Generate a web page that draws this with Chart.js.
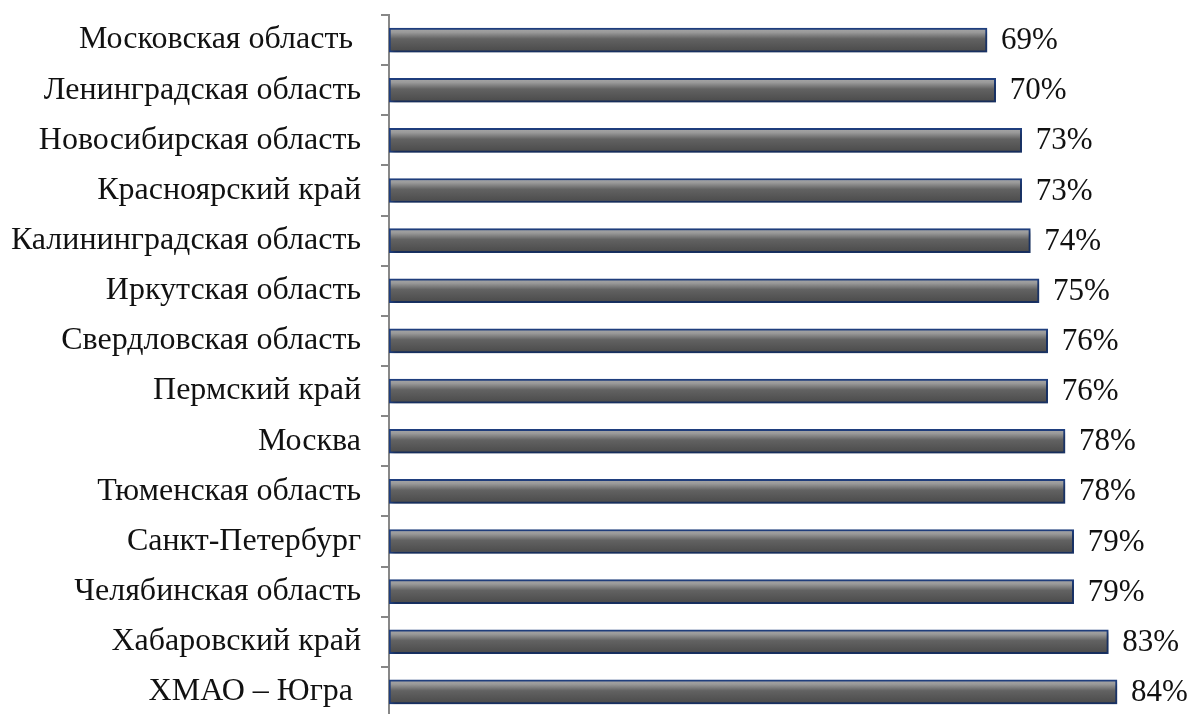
<!DOCTYPE html>
<html>
<head>
<meta charset="utf-8">
<script src="https://cdn.jsdelivr.net/npm/chart.js@4/dist/chart.umd.min.js"></script>
<style>
  html, body { margin: 0; padding: 0; background: #fff; overflow: hidden; }
  #wrap { width: 1191px; height: 717px; position: relative; }
</style>
</head>
<body>
<div id="wrap"><canvas id="regionsChart"></canvas></div>
<script>
let regions = ['Московская область ', 'Ленинградская область', 'Новосибирская область', 'Красноярский край',
    'Калининградская область', 'Иркутская область', 'Свердловская область', 'Пермский край', 'Москва',
    'Тюменская область', 'Санкт-Петербург', 'Челябинская область', 'Хабаровский край', 'ХМАО – Югра '];
let shares = [69, 70, 73, 73, 74, 75, 76, 76, 78, 78, 79, 79, 83, 84];

const FONT = "'Liberation Serif', 'Times New Roman', serif";
const BAR = 24;

// grey cylinder-like fill, built per bar from its category pixel
function barFill(ctx) {
    let chart = ctx.chart;
    let y = chart.scales && chart.scales.y;
    if (!y || ctx.dataIndex === undefined) return '#555';
    let c = y.getPixelForValue(ctx.dataIndex);
    if (!isFinite(c)) return '#555';
    let g = chart.ctx.createLinearGradient(0, c - BAR / 2, 0, c + BAR / 2);
    g.addColorStop(0, '#a8a8a8');
    g.addColorStop(0.18, '#999');
    g.addColorStop(0.45, '#626262');
    g.addColorStop(1, '#4a4a4a');
    return g;
}

let shadow = {
    id: 'shadow',
    beforeDatasetsDraw(chart) {
        let c = chart.ctx;
        c.save();
        c.shadowColor = 'rgba(0,0,0,0.3)';
        c.shadowBlur = 4;
        c.shadowOffsetX = 2;
        c.shadowOffsetY = 3;
    },
    afterDatasetsDraw(chart) {
        chart.ctx.restore();
    }
};

let valueLabels = {
    id: 'valueLabels',
    afterDraw(chart) {
        let c = chart.ctx;
        let meta = chart.getDatasetMeta(0);
        c.save();
        c.font = '31px ' + FONT;
        c.fillStyle = '#111';
        c.textAlign = 'left';
        c.textBaseline = 'middle';
        meta.data.forEach((bar, i) => {
            c.fillText(shares[i] + '%', bar.x + 14, bar.y + 1);
        });
        c.restore();
    }
};

let config = {
    type: 'bar',
    data: {
        labels: regions,
        datasets: [{
            data: shares,
            backgroundColor: barFill,
            borderColor: '#1f3e7d',
            borderWidth: 2,
            borderSkipped: false,
            barThickness: BAR
        }]
    },
    options: {
        indexAxis: 'y',
        responsive: true,
        maintainAspectRatio: false,
        animation: false,
        layout: { padding: { top: 15, bottom: 0, right: 22, left: 0 } },
        plugins: { legend: { display: false }, tooltip: { enabled: false } },
        scales: {
            x: { display: false, min: 0, max: 90 },
            y: {
                afterFit(scale) {
                    scale.width = 389;
                    scale.paddingTop = 0;
                    scale.paddingBottom = 0;
                },
                border: { display: true, color: '#878787', width: 2 },
                grid: { drawOnChartArea: false, drawTicks: true, tickLength: 8, color: '#878787', lineWidth: 2 },
                ticks: { padding: 20, color: '#111', font: { family: FONT, size: 32 } }
            }
        }
    },
    plugins: [shadow, valueLabels]
};

let chart = new Chart(document.getElementById('regionsChart'), config);
chart.update();
</script>
</body>
</html>
